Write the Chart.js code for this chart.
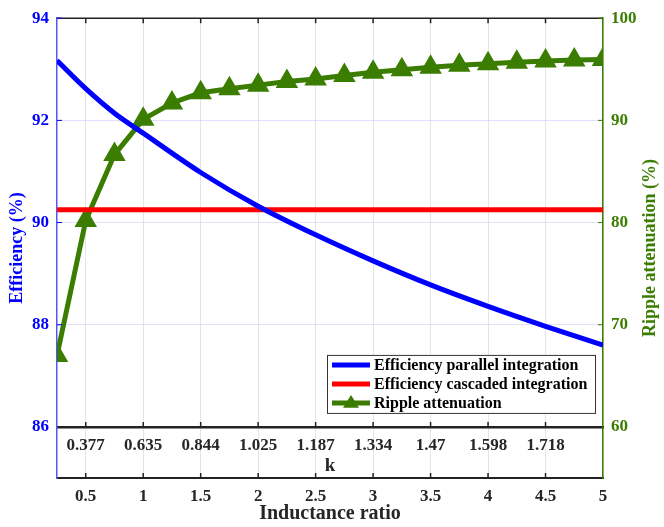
<!DOCTYPE html>
<html>
<head>
<meta charset="utf-8">
<script src="https://cdn.jsdelivr.net/npm/chart.js@4.4.0/dist/chart.umd.min.js"></script>
<style>
  html, body { margin: 0; padding: 0; background: #fff; }
  #wrap { width: 664px; height: 527px; position: relative; }
</style>
</head>
<body>
<div id="wrap"><canvas id="c"></canvas></div>
<script>
// inductance ratio where the efficiency curve was read
const effX = [0.25, 0.5, 0.75, 1, 1.5, 2, 2.5, 3, 3.5, 4, 4.5, 5];
const effParallel = [93.17, 92.62, 92.14, 91.75, 90.98, 90.32, 89.76, 89.25, 88.78, 88.36, 87.97, 87.60];
const effCascaded = 90.25;

// ripple attenuation, one marker every 0.25
const rippleX = [0.25, 0.5, 0.75, 1, 1.25, 1.5, 1.75, 2, 2.25, 2.5, 2.75, 3, 3.25, 3.5, 3.75, 4, 4.25, 4.5, 4.75, 5];
const ripple = [67.0, 80.2, 86.65, 90.1, 91.7, 92.7, 93.1, 93.45, 93.8, 94.05, 94.4, 94.7, 94.95, 95.2, 95.4, 95.55, 95.7, 95.8, 95.9, 95.95];

const xTicks = [0.5, 1, 1.5, 2, 2.5, 3, 3.5, 4, 4.5, 5];
const kTicks = [0.5, 1, 1.5, 2, 2.5, 3, 3.5, 4, 4.5];
const kLabels = ['0.377', '0.635', '0.844', '1.025', '1.187', '1.334', '1.47', '1.598', '1.718'];
const effTicks = [86, 88, 90, 92, 94];
const rippleTicks = [60, 70, 80, 90, 100];

const BLUE = '#0000ff';
const RED = '#ff0000';
const GREEN = '#3a7d00';
const FONT = "'Liberation Serif', 'Times New Roman', serif";

const pts = (xs, ys) => xs.map((x, i) => ({ x: x, y: ys[i] }));

// small inward tick marks + top border, like the matlab box
const boxTicks = {
  id: 'boxTicks',
  afterDatasetsDraw(chart) {
    const { ctx, chartArea: a, scales } = chart;
    const y86 = scales.y.getPixelForValue(86);
    ctx.save();
    ctx.lineWidth = 1.5;
    ctx.strokeStyle = '#222';
    ctx.beginPath();
    ctx.moveTo(a.left, a.top); ctx.lineTo(a.right, a.top);
    xTicks.forEach(v => {
      if (v >= 5) return;
      const px = scales.x.getPixelForValue(v);
      ctx.moveTo(px, a.top); ctx.lineTo(px, a.top + 5);
      ctx.moveTo(px, a.bottom); ctx.lineTo(px, a.bottom - 5);
      ctx.moveTo(px, y86); ctx.lineTo(px, y86 - 5);
    });
    ctx.stroke();
    ctx.lineWidth = 1;
    ctx.strokeStyle = BLUE;
    ctx.beginPath();
    effTicks.forEach(v => {
      if (v === 86) return;
      const py = scales.y.getPixelForValue(v);
      ctx.moveTo(a.left, py); ctx.lineTo(a.left + 5, py);
    });
    ctx.stroke();
    ctx.strokeStyle = GREEN;
    ctx.beginPath();
    rippleTicks.forEach(v => {
      if (v === 60) return;
      const py = scales.y2.getPixelForValue(v);
      ctx.moveTo(a.right, py); ctx.lineTo(a.right - 5, py);
    });
    ctx.stroke();

    // right axis title reads bottom-to-top in the original
    ctx.translate(650, (a.top + a.bottom) / 2);
    ctx.rotate(-Math.PI / 2);
    ctx.font = 'bold 18px ' + FONT;
    ctx.fillStyle = GREEN;
    ctx.textAlign = 'center';
    ctx.textBaseline = 'middle';
    ctx.fillText('Ripple attenuation (%)', 0, 0);
    ctx.restore();
  }
};

// legend box sitting just above the k axis, right side
const boxLegend = {
  id: 'boxLegend',
  afterDraw(chart) {
    const { ctx, chartArea: a, scales } = chart;
    const sets = chart.data.datasets;
    const rowH = 19;
    const right = a.right - 8;
    const left = right - 268;
    const bottom = scales.y.getPixelForValue(86) - 14;
    const top = bottom - rowH * sets.length - 1;
    ctx.save();
    ctx.fillStyle = '#fff';
    ctx.fillRect(left, top, right - left, bottom - top);
    ctx.strokeStyle = '#333';
    ctx.lineWidth = 1;
    ctx.strokeRect(left + 0.5, top + 0.5, right - left, bottom - top);
    ctx.font = 'bold 16px ' + FONT;
    ctx.textBaseline = 'middle';
    sets.forEach((ds, i) => {
      const cy = top + 10 + i * rowH;
      ctx.strokeStyle = ds.borderColor;
      ctx.lineWidth = 5;
      ctx.beginPath();
      ctx.moveTo(left + 5, cy); ctx.lineTo(left + 43, cy);
      ctx.stroke();
      if (ds.pointRadius > 0) {
        const cx = left + 24, r = 8;
        ctx.fillStyle = ds.borderColor;
        ctx.beginPath();
        ctx.moveTo(cx, cy - r);
        ctx.lineTo(cx + r, cy + r * 0.6);
        ctx.lineTo(cx - r, cy + r * 0.6);
        ctx.closePath();
        ctx.fill();
      }
      ctx.fillStyle = '#000';
      ctx.fillText(ds.label, left + 47, cy + 1);
    });
    ctx.restore();
  }
};

new Chart(document.getElementById('c'), {
  type: 'line',
  data: {
    datasets: [
      {
        label: 'Efficiency parallel integration',
        data: pts(effX, effParallel),
        yAxisID: 'y',
        borderColor: BLUE,
        borderWidth: 5,
        pointRadius: 0,
        cubicInterpolationMode: 'monotone',
      },
      {
        label: 'Efficiency cascaded integration',
        data: pts([0.25, 5], [effCascaded, effCascaded]),
        yAxisID: 'y',
        borderColor: RED,
        borderWidth: 5,
        pointRadius: 0,
      },
      {
        label: 'Ripple attenuation',
        data: pts(rippleX, ripple),
        yAxisID: 'y2',
        borderColor: GREEN,
        backgroundColor: GREEN,
        borderWidth: 5,
        pointStyle: 'triangle',
        pointRadius: 8,
      },
    ],
  },
  options: {
    responsive: true,
    maintainAspectRatio: false,
    animation: false,
    layout: { padding: { top: 13 } },
    plugins: {
      legend: { display: false },
      tooltip: { enabled: false },
    },
    scales: {
      x: {
        type: 'linear',
        min: 0.25,
        max: 5,
        afterBuildTicks: s => { s.ticks = xTicks.map(v => ({ value: v })); },
        afterFit: s => { s.height = 49; },
        grid: { color: 'rgba(0,0,0,0.1)', drawTicks: false },
        border: { color: '#222', width: 2 },
        ticks: { color: '#262626', font: { family: FONT, size: 17, weight: 'bold' }, padding: 8, maxRotation: 0,
          callback: v => String(v) },
        title: { display: true, text: 'Inductance ratio', color: '#262626', font: { family: FONT, size: 20, weight: 'bold' }, padding: { top: 0, bottom: 1 } },
      },
      k: {
        type: 'linear',
        axis: 'x',
        min: 0.25,
        max: 5,
        position: { y: 86 },
        afterBuildTicks: s => { s.ticks = kTicks.map(v => ({ value: v })); },
        grid: { drawOnChartArea: false, drawTicks: false },
        border: { color: '#222', width: 2.5 },
        ticks: { color: '#262626', font: { family: FONT, size: 17, weight: 'bold' }, padding: 8, maxRotation: 0, autoSkip: false,
          callback: (v, i) => kLabels[i] },
        title: { display: true, text: 'k', color: '#262626', font: { family: FONT, size: 19, weight: 'bold' }, padding: { top: -9, bottom: 0 } },
      },
      y: {
        position: 'left',
        min: 85,
        max: 94,
        afterBuildTicks: s => { s.ticks = effTicks.map(v => ({ value: v })); },
        afterFit: s => { s.width = 57; },
        grid: { color: ctx => ctx.tick && ctx.tick.value === 86 ? 'rgba(0,0,0,0)' : 'rgba(170,170,255,0.35)', drawTicks: false },
        border: { color: '#5555ff', width: 1.5 },
        ticks: { color: BLUE, font: { family: FONT, size: 17, weight: 'bold' }, padding: 8 },
        title: { display: true, text: 'Efficiency (%)', color: BLUE, font: { family: FONT, size: 18, weight: 'bold' }, padding: { top: 7, bottom: 0 } },
      },
      y2: {
        position: 'right',
        min: 55,
        max: 100,
        afterBuildTicks: s => { s.ticks = rippleTicks.map(v => ({ value: v })); },
        afterFit: s => { s.width = 61; },
        grid: { drawOnChartArea: false, drawTicks: false },
        border: { color: GREEN, width: 1.5 },
        ticks: { color: GREEN, font: { family: FONT, size: 17, weight: 'bold' }, padding: 8 },
        title: { display: false },
      },
    },
  },
  plugins: [boxTicks, boxLegend],
});
</script>
</body>
</html>
